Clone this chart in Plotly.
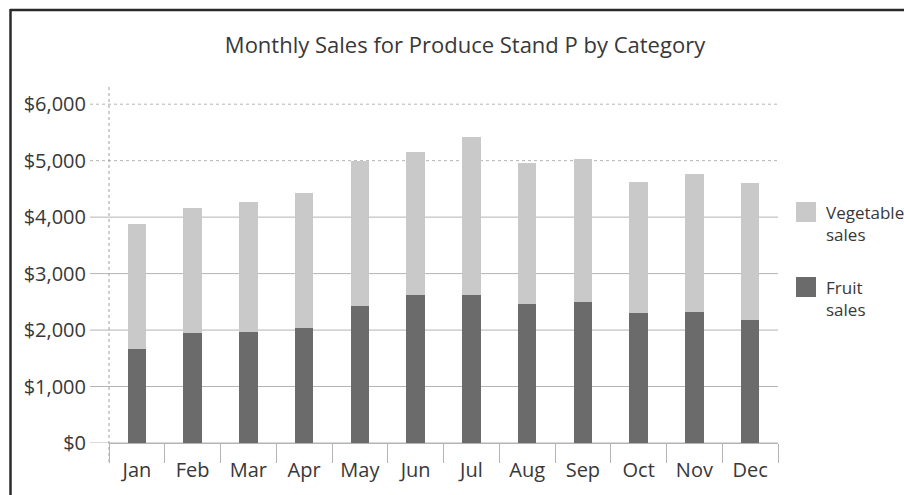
import plotly.graph_objects as go

# Monthly sales data (dollars)
months = ["Jan", "Feb", "Mar", "Apr", "May", "Jun",
          "Jul", "Aug", "Sep", "Oct", "Nov", "Dec"]
fruit_sales = [1670, 1950, 1970, 2040, 2420, 2620, 2620, 2470, 2490, 2300, 2320, 2170]
vegetable_sales = [2210, 2220, 2300, 2390, 2580, 2530, 2800, 2490, 2540, 2330, 2440, 2430]
y_ticks = [0, 1000, 2000, 3000, 4000, 5000, 6000]
y_tick_text = ["$0", "$1,000", "$2,000", "$3,000", "$4,000", "$5,000", "$6,000"]

W, H = 904, 495
M_L, M_R, M_T, M_B = 109, 126, 85, 52
PW, PH = W - M_L - M_R, H - M_T - M_B

FONT = "Open Sans"
TEXT = "#383838"
GRID = "#b4b4b4"
FRUIT_C = "#6b6b6b"
VEG_C = "#c9c9c9"


def px_x(px):
    return (px - M_L) / PW


def px_y(py):
    return (H - M_B - py) / PH


fig = go.Figure()
fig.add_trace(go.Bar(x=months, y=fruit_sales, name="Fruit sales",
                     marker=dict(color=FRUIT_C, line=dict(width=0)), width=0.33))
fig.add_trace(go.Bar(x=months, y=vegetable_sales, name="Vegetable sales",
                     marker=dict(color=VEG_C, line=dict(width=0)), width=0.33))

shapes = []
# horizontal gridlines, extended left of the axis as tick marks
for v in y_ticks:
    shapes.append(dict(type="line", xref="paper", yref="y",
                       x0=px_x(90), x1=1, y0=v, y1=v, layer="below",
                       line=dict(color=GRID, width=1,
                                 dash="dot" if v >= 5000 else "solid")))
# vertical axis line
shapes.append(dict(type="line", xref="paper", yref="paper",
                   x0=0, x1=0, y0=px_y(462), y1=1, layer="below",
                   line=dict(color="#a0a0a0", width=1, dash="dot")))
# frame lines (top and left)
shapes.append(dict(type="line", xref="paper", yref="paper",
                   x0=px_x(10), x1=px_x(W), y0=px_y(10), y1=px_y(10),
                   line=dict(color="#2a2a2a", width=2.5)))
shapes.append(dict(type="line", xref="paper", yref="paper",
                   x0=px_x(10.5), x1=px_x(10.5), y0=px_y(9), y1=px_y(H + 5),
                   line=dict(color="#2a2a2a", width=2.5)))

# legend swatches and labels
legend_items = [("Vegetable<br>sales", VEG_C, 202), ("Fruit<br>sales", FRUIT_C, 277)]
annotations = []
for label, color, top in legend_items:
    shapes.append(dict(type="rect", xref="paper", yref="paper",
                       x0=px_x(796), x1=px_x(816), y0=px_y(top + 20), y1=px_y(top),
                       fillcolor=color, line=dict(width=0)))
    annotations.append(dict(xref="paper", yref="paper", x=px_x(824), y=px_y(top - 3),
                            xanchor="left", yanchor="top", align="left",
                            showarrow=False, text=label,
                            font=dict(family=FONT, size=17, color=TEXT)))

fig.update_layout(
    width=W, height=H,
    margin=dict(l=M_L, r=M_R, t=M_T, b=M_B),
    paper_bgcolor="white", plot_bgcolor="white",
    barmode="stack", showlegend=False,
    font=dict(family=FONT, color=TEXT),
    title=dict(text="Monthly Sales for Produce Stand P by Category",
               x=465 / W, xanchor="center", xref="container",
               y=1 - 45 / H, yanchor="middle", yref="container",
               font=dict(family=FONT, size=22, color=TEXT)),
    shapes=shapes, annotations=annotations,
    xaxis=dict(range=[-0.5, 11.5], showgrid=False, showline=True,
               linecolor=GRID, linewidth=1, zeroline=False,
               ticks="outside", tickson="boundaries", ticklen=19,
               tickcolor=GRID, tickwidth=1, ticklabelstandoff=9,
               tickfont=dict(family=FONT, size=20, color=TEXT)),
    yaxis=dict(range=[0, 6340], showgrid=False, zeroline=False, showline=False,
               tickvals=y_ticks, ticktext=y_tick_text, ticks="",
               ticklabelstandoff=22,
               tickfont=dict(family=FONT, size=20, color=TEXT)),
)

fig.write_html("out.html")
